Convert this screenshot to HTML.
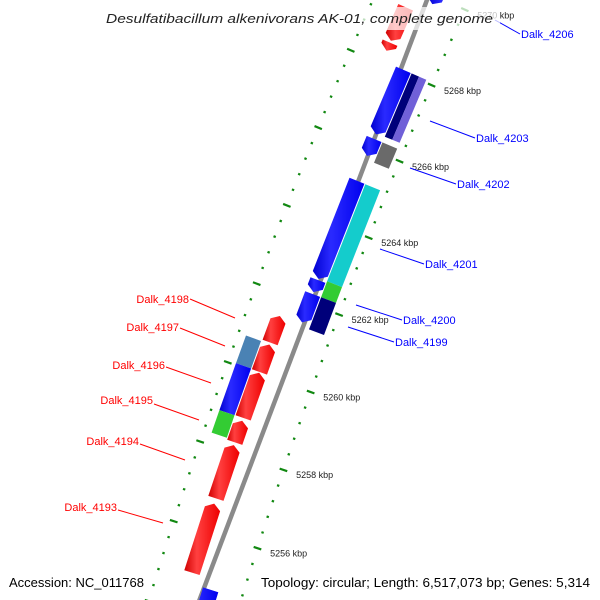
<!DOCTYPE html>
<html><head><meta charset="utf-8"><style>
html,body{margin:0;padding:0;background:#fff;width:600px;height:600px;overflow:hidden;}
svg{display:block;font-family:"Liberation Sans",sans-serif;overflow:hidden;}
</style></head><body>
<svg id="map" width="600" height="600" viewBox="0 0 600 600" xmlns="http://www.w3.org/2000/svg">
<defs>
<linearGradient id="gRed" x1="0" x2="1" y1="0" y2="0"><stop offset="0" stop-color="#d00000"/><stop offset="0.35" stop-color="#ff4040"/><stop offset="1" stop-color="#ee0000"/></linearGradient>
<linearGradient id="gBlue" x1="0" x2="1" y1="0" y2="0"><stop offset="0" stop-color="#0000d0"/><stop offset="0.35" stop-color="#2a2aff"/><stop offset="1" stop-color="#0000ee"/></linearGradient>
</defs>
<g id="ruler"></g>
<line id="bb" stroke="#8a8a8a" stroke-width="4.5"/>
<g id="genes"></g>
<g id="labels"></g>
<rect x="100" y="7" width="400" height="23" fill="#fff" opacity="0.72"/>
<text x="106" y="23" font-size="13" font-style="italic" fill="#222" textLength="387" lengthAdjust="spacingAndGlyphs">Desulfatibacillum alkenivorans AK-01, complete genome</text>
<text x="9" y="587" font-size="13" fill="#000" textLength="135" lengthAdjust="spacingAndGlyphs">Accession: NC_011768</text>
<text x="261" y="587" font-size="13" fill="#000" textLength="329" lengthAdjust="spacingAndGlyphs">Topology: circular; Length: 6,517,073 bp; Genes: 5,314</text>
</svg>
<script>
// gene data (kbp)
const geneIds = ["top-blue","top-red","red-tail","Dalk_4203","navy-a","slate-b","Dalk_4202","gray-f","Dalk_4201","cyan-f","blue-s","Dalk_4200","green-r","Dalk_4199","Dalk_4198","Dalk_4197","Dalk_4196","Dalk_4195","Dalk_4194","Dalk_4193","steel-f","blue-l","green-l","bottom-blue"];
const geneStarts = [5269.8,5268.59,5268.33,5266.38,5266.41,5266.41,5265.82,5265.73,5262.63,5262.65,5262.29,5261.51,5262.24,5261.41,5260.79,5260.04,5258.87,5258.25,5256.83,5254.96,5260.05,5258.86,5258.29,5253.0];
const geneEnds = [5271.5,5269.47,5268.54,5268.07,5268.07,5268.07,5266.26,5266.26,5265.17,5265.17,5262.60,5262.24,5262.65,5262.24,5261.47,5260.74,5260.02,5258.80,5258.18,5256.70,5260.75,5260.05,5258.86,5254.70];
const geneStrands = [-1,-1,-1,-1,0,0,-1,0,-1,0,-1,-1,0,0,1,1,1,1,1,1,0,0,0,-1];
const geneTracks = ["R1","L1","L1","R1","R2a","R2b","R1","R2","R1","R2","R1","R1","R2","R2","L1","L1","L1","L1","L1","L1","L2","L2","L2","R1"];
const geneColors = ["url(#gBlue)","url(#gRed)","url(#gRed)","url(#gBlue)","#00007a","#7060d8","url(#gBlue)","#6a6a6a","url(#gBlue)","#14cccc","url(#gBlue)","url(#gBlue)","#33cc33","#00007a","url(#gRed)","url(#gRed)","url(#gRed)","url(#gRed)","url(#gRed)","url(#gRed)","#4a82b4","url(#gBlue)","#33cc33","url(#gBlue)"];
const tickKbp = [5254,5256,5258,5260,5262,5264,5266,5268,5270];
const tickLabels = ["5254 kbp","5256 kbp","5258 kbp","5260 kbp","5262 kbp","5264 kbp","5266 kbp","5268 kbp","5270 kbp"];

const NS="http://www.w3.org/2000/svg";
const CX=5254, CY=2163, R=5294;
function P(k,o){const a=(200.61+(k-5262)*0.45)*Math.PI/180;const r=R-o;return [CX+r*Math.cos(a),CY+r*Math.sin(a)];}
const tracks={R1:[3,19],R2:[20,36],R2a:[20,28],R2b:[28,36],L1:[-20,-4],L2:[-37,-21]};
function mk(tag,attrs,parent){const e=document.createElementNS(NS,tag);for(const k in attrs)e.setAttribute(k,attrs[k]);parent.appendChild(e);return e;}

const bb=document.getElementById('bb');
const b0=P(5271.5,0), b1=P(5253.2,0);
bb.setAttribute('x1',b0[0]);bb.setAttribute('y1',b0[1]);bb.setAttribute('x2',b1[0]);bb.setAttribute('y2',b1[1]);

// ruler
const rg=document.getElementById('ruler');
for(let i=0;i<=47;i++){
  const k=5252.8+i*0.4;
  const major=Math.abs(k/2-Math.round(k/2))<0.01;
  [43,-45].forEach(function(o){
    const h=major?4:1.2;
    const p0=P(k,o-h),p1=P(k,o+h);
    const ln=mk('line',{x1:p0[0],y1:p0[1],x2:p1[0],y2:p1[1],stroke:'#118811','stroke-width':2.2},rg);
    
    
  });
}
tickKbp.forEach(function(k,i){
  const p=P(k,50);
  const t=mk('text',{x:p[0]+6,y:p[1]+6,'font-size':9,fill:'#222'},rg);
  t.textContent=tickLabels[i];
  
  
});

// genes
const gg=document.getElementById('genes');
const H=0.13;
geneIds.forEach(function(id,i){
  const s=geneStarts[i],e=geneEnds[i],st=geneStrands[i],tr=tracks[geneTracks[i]];
  const o0=tr[0],o1=tr[1],om=(o0+o1)/2;
  const h=Math.min(H,e-s);
  let pts;
  if(st===1) pts=[P(s,o0),P(e-h,o0),P(e,om),P(e-h,o1),P(s,o1)];
  else if(st===-1) pts=[P(e,o0),P(s+h,o0),P(s,om),P(s+h,o1),P(e,o1)];
  else pts=[P(s,o0),P(e,o0),P(e,o1),P(s,o1)];
  const pg=mk('polygon',{points:pts.map(function(p){return p[0].toFixed(1)+','+p[1].toFixed(1);}).join(' '),fill:geneColors[i]},gg);
  
  
});

// labels
const lg=document.getElementById('labels');
const rightLabels=[["Dalk_4206",521,38,495,20],["Dalk_4203",476,142,430,121],["Dalk_4202",457,188,410,168],["Dalk_4201",425,268,380,249],["Dalk_4200",403,324,356,305],["Dalk_4199",395,346,348,327]];
const leftLabels=[["Dalk_4198",189,303,190,299,235,318],["Dalk_4197",179,331,180,328,225,346],["Dalk_4196",165,369,166,367,211,383],["Dalk_4195",153,404,154,404,199,420],["Dalk_4194",139,445,140,444,185,460],["Dalk_4193",117,511,118,510,163,523]];
rightLabels.forEach(function(l){
  const ln=mk('line',{x1:l[3],y1:l[4],x2:l[1]-1,y2:l[2]-4,stroke:'#0000ff','stroke-width':1},lg);
  
  
  const t=mk('text',{x:l[1],y:l[2],'font-size':11,fill:'#0000ff'},lg);
  t.textContent=l[0];
  
  
});
leftLabels.forEach(function(l){
  const ln=mk('line',{x1:l[3],y1:l[4],x2:l[5],y2:l[6],stroke:'#ff0000','stroke-width':1},lg);
  
  
  const t=mk('text',{x:l[1],y:l[2],'font-size':11,fill:'#ff0000','text-anchor':'end'},lg);
  t.textContent=l[0];
  
  
});
</script>
</body></html>
